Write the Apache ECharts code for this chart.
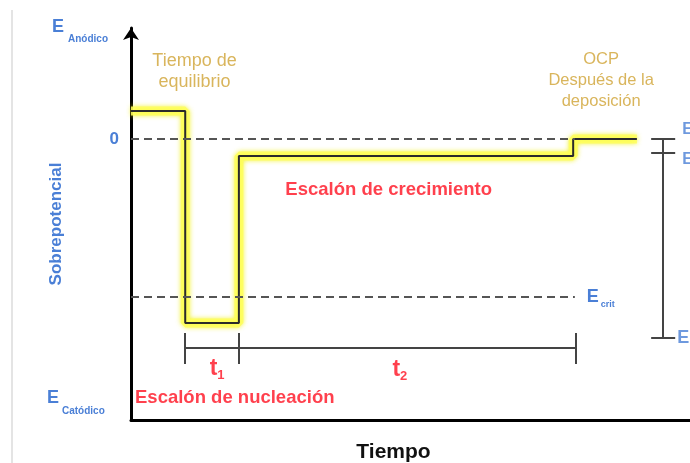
<!DOCTYPE html>
<html>
<head>
<meta charset="utf-8">
<script src="https://cdn.jsdelivr.net/npm/echarts@6/dist/echarts.min.js"></script>
<style>
  html, body { margin: 0; padding: 0; background: #fff; }
  #chart { width: 690px; height: 463px; }
</style>
</head>
<body>
<div id="chart"></div>
<script>
// instantes de cambio del potencial (escala relativa de tiempo 0-100)
const tiempos = [0, 9.7, 19.3, 79.1, 90.5];
// sobrepotencial aplicado desde cada instante
const niveles = [0.28, -1.84, -0.17, 0, 0];
const eCero = 0;
const eCrit = -1.58;
const finGuias = 79.4;
// límites de los intervalos t1 y t2
const marcasT = [9.7, 19.3, 79.6];
const nivelT = -2.09;
// escala de potenciales a la derecha
const xEscala = 95.2;
const nivelesEscala = [0, -0.14, -1.99];

const AZUL = '#4a7fd6';
const ORO = '#cfa233';
const ROJO = '#ff1020';
const FUENTE = '"Liberation Sans", Arial, sans-serif';

const chart = echarts.init(document.getElementById('chart'));

const paso = tiempos.map((t, i) => [t, niveles[i]]);

// segmentos de los corchetes (t1, t2 y escala derecha)
const segmentos = [];
segmentos.push({coords: [[marcasT[0], nivelT], [marcasT[marcasT.length - 1], nivelT]]});
marcasT.forEach(t => segmentos.push({coords: [[t, nivelT + 0.15], [t, nivelT - 0.16]]}));
segmentos.push({coords: [[xEscala, nivelesEscala[0]], [xEscala, nivelesEscala[nivelesEscala.length - 1]]]});
nivelesEscala.forEach(v => segmentos.push({coords: [[xEscala - 2.15, v], [xEscala + 2.15, v]]}));

const guia = {type: [8, 5], color: '#555', width: 2};

const option = {
  animation: false,
  textStyle: {fontFamily: FUENTE},
  grid: {left: 131, right: 0, top: 28, bottom: 43, outerBoundsMode: 'none'},
  xAxis: {
    type: 'value', min: 0, max: 100,
    name: 'Tiempo', nameLocation: 'middle', nameGap: 22,
    nameTextStyle: {color: '#111', fontSize: 21, fontWeight: 'bold', padding: [0, 34, 0, 0]},
    axisLine: {onZero: false, lineStyle: {color: '#000', width: 3}},
    axisTick: {show: false}, axisLabel: {show: false}, splitLine: {show: false}
  },
  yAxis: {
    type: 'value', min: -2.81, max: 1.11,
    name: 'Sobrepotencial', nameLocation: 'middle', nameGap: 66,
    nameTextStyle: {color: AZUL, fontSize: 17, fontWeight: 'bold'},
    axisLine: {show: true, onZero: false, symbol: ['none', 'arrow'], symbolSize: [12, 12], lineStyle: {color: '#000', width: 3}},
    axisTick: {show: false}, axisLabel: {show: false}, splitLine: {show: false}
  },
  graphic: [
    {type: 'line', shape: {x1: 12, y1: 10, x2: 12, y2: 463}, style: {stroke: '#e4e4e4', lineWidth: 2}},
    {type: 'text', x: 52, y: 27, style: {text: 'E', fill: AZUL, font: 'bold 18px ' + FUENTE, verticalAlign: 'middle'}},
    {type: 'text', x: 68, y: 39, style: {text: 'Anódico', fill: AZUL, font: 'bold 10px ' + FUENTE, verticalAlign: 'middle'}},
    {type: 'text', x: 47, y: 398, style: {text: 'E', fill: AZUL, font: 'bold 18px ' + FUENTE, verticalAlign: 'middle'}},
    {type: 'text', x: 62, y: 411, style: {text: 'Catódico', fill: AZUL, font: 'bold 10px ' + FUENTE, verticalAlign: 'middle'}}
  ],
  series: [
    {
      // líneas discontinuas de 0 y E crit
      type: 'line', data: [], silent: true,
      markLine: {
        symbol: ['none', 'none'], silent: true, animation: false,
        lineStyle: guia,
        data: [
          [{coord: [0, eCero], label: {show: true, position: 'start', distance: 12, formatter: '0',
            color: AZUL, fontSize: 17, fontWeight: 'bold'}}, {coord: [finGuias, eCero]}],
          [{coord: [0, eCrit], label: {show: true, position: 'end', distance: 12, formatter: '{e|E}{s|crit}',
            rich: {e: {color: AZUL, fontSize: 18, fontWeight: 'bold'},
                   s: {color: AZUL, fontSize: 9, fontWeight: 'bold', padding: [16, 0, 0, 2]}}}},
           {coord: [finGuias, eCrit]}]
        ]
      }
    },
    {
      // halo amarillo del pulso
      type: 'line', step: 'end', data: paso, symbol: 'none', silent: true,
      lineStyle: {color: 'rgba(255,255,90,0.85)', width: 9, shadowBlur: 5, shadowColor: 'rgba(240,240,0,0.9)'}
    },
    {
      type: 'line', step: 'end', data: paso, symbol: 'none', silent: true,
      lineStyle: {color: '#2a2a2a', width: 2}
    },
    {
      type: 'lines', coordinateSystem: 'cartesian2d', polyline: false, silent: true,
      lineStyle: {color: '#444', width: 2, opacity: 1},
      data: segmentos
    },
    {
      // textos del esquema
      type: 'scatter', symbolSize: 0, silent: true, clip: false,
      label: {show: true, position: 'inside', fontFamily: FUENTE},
      data: [
        {value: [11.36, 0.67], label: {formatter: 'Tiempo de\nequilibrio', color: ORO, fontSize: 18, lineHeight: 21}},
        {value: [84.1, 0.585], label: {formatter: 'OCP\nDespués de la\ndeposición', color: ORO, fontSize: 16.5, lineHeight: 21}},
        {value: [46.1, -0.51], label: {formatter: 'Escalón de crecimiento', color: ROJO, fontSize: 18.5, fontWeight: 'bold'}},
        {value: [0.72, -2.59], label: {position: 'right', distance: 0, formatter: 'Escalón de nucleación', color: ROJO, fontSize: 18.5, fontWeight: 'bold'}},
        {value: [15.4, -2.295], label: {formatter: '{t|t}{s|1}', rich: {
          t: {color: ROJO, fontSize: 23, fontWeight: 'bold'},
          s: {color: ROJO, fontSize: 13, fontWeight: 'bold', padding: [14, 0, 0, 0]}}}},
        {value: [48.1, -2.305], label: {formatter: '{t|t}{s|2}', rich: {
          t: {color: ROJO, fontSize: 23, fontWeight: 'bold'},
          s: {color: ROJO, fontSize: 13, fontWeight: 'bold', padding: [14, 0, 0, 0]}}}},
        {value: [98.6, 0.09], label: {position: 'right', distance: 0, formatter: 'E', color: AZUL, fontSize: 16, fontWeight: 'bold'}},
        {value: [98.6, -0.21], label: {position: 'right', distance: 0, formatter: 'E', color: AZUL, fontSize: 16, fontWeight: 'bold'}},
        {value: [97.7, -1.99], label: {position: 'right', distance: 0, formatter: '{e|E}{s|f}', rich: {
          e: {color: AZUL, fontSize: 18, fontWeight: 'bold'},
          s: {color: AZUL, fontSize: 9, fontWeight: 'bold', padding: [14, 0, 0, 1]}}}}
      ]
    }
  ]
};

chart.setOption(option);
window.addEventListener('resize', () => chart.resize());
</script>
</body>
</html>
